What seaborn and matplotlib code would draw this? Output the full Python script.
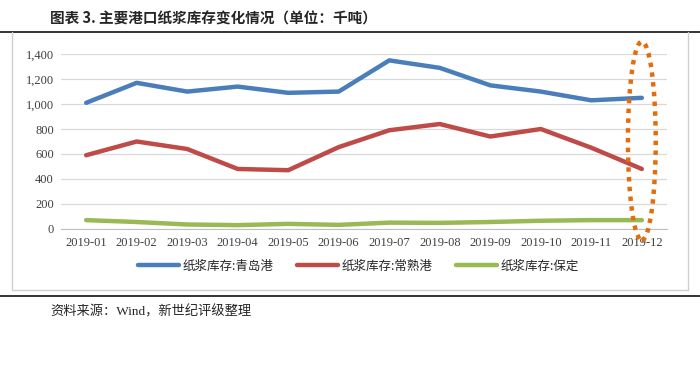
import numpy as np
import pandas as pd
import seaborn as sns
import matplotlib.pyplot as plt
from matplotlib.patches import Ellipse
from matplotlib.lines import Line2D

months = ['2019-01', '2019-02', '2019-03', '2019-04', '2019-05', '2019-06',
          '2019-07', '2019-08', '2019-09', '2019-10', '2019-11', '2019-12']
qingdao = [1010, 1170, 1100, 1140, 1090, 1100, 1350, 1290, 1150, 1100, 1030, 1050]
changshu = [590, 700, 640, 480, 470, 655, 790, 840, 740, 800, 650, 480]
baoding = [70, 55, 35, 30, 40, 32, 50, 48, 55, 65, 70, 70]
series_names = ['纸浆库存:青岛港', '纸浆库存:常熟港', '纸浆库存:保定']
colors = ['#4A7EBB', '#BE4B48', '#98B954']
yticks = [0, 200, 400, 600, 800, 1000, 1200, 1400]

sns.set_style('white')
plt.rcParams['font.family'] = ['Liberation Serif', 'Noto Sans CJK SC', 'DejaVu Sans']

df = pd.DataFrame({
    'month': months * 3,
    'x': list(range(len(months))) * 3,
    'value': qingdao + changshu + baoding,
    'series': [series_names[0]] * 12 + [series_names[1]] * 12 + [series_names[2]] * 12,
})

fig = plt.figure(figsize=(7, 3.84), dpi=100)
ax = fig.add_axes([0.087, 0.404, 0.866, 0.455])

sns.lineplot(data=df, x='x', y='value', hue='series', palette=colors,
             linewidth=3.2, ax=ax, legend=False, solid_capstyle='round')

ax.set_xlim(-0.5, 11.5)
ax.set_ylim(0, 1400)
ax.set_yticks(yticks)
ax.set_yticklabels([f'{v:,}' for v in yticks], fontsize=9, color='#404040')
ax.set_xticks(range(len(months)))
ax.set_xticklabels(months, fontsize=9, color='#404040')
ax.set_xticks(np.arange(-0.5, 12, 1), minor=True)
ax.tick_params(axis='x', which='major', length=0, pad=6)
ax.tick_params(axis='x', which='minor', length=4, color='#BFBFBF', width=0.8)
ax.tick_params(axis='y', length=0, pad=5)
ax.grid(axis='y', color='#D9D9D9', linewidth=0.9)
for s in ['top', 'right', 'left']:
    ax.spines[s].set_visible(False)
ax.spines['bottom'].set_color('#BFBFBF')
ax.set_xlabel('')
ax.set_ylabel('')

# dotted highlight ellipse around the last month
ell = Ellipse((11, 705), width=0.55, height=1590, fill=False,
              edgecolor='#E46C0A', linestyle=(0, (1, 1.2)), linewidth=3.2,
              clip_on=False, zorder=5)
ax.add_patch(ell)

handles = [Line2D([0], [0], color=c, linewidth=3.2) for c in colors]
fig.legend(handles, series_names, loc='center', bbox_to_anchor=(0.512, 0.307),
           ncol=3, frameon=False, handlelength=3.3,
           columnspacing=1.9, handletextpad=0.25,
           prop={'family': ['Noto Sans CJK SC'], 'size': 9})

# title and frame lines
fig.text(0.071, 0.953, '图表 3. 主要港口纸浆库存变化情况（单位：千吨）',
         fontsize=10.5, fontweight='bold', va='center', ha='left',
         family=['Noto Sans CJK SC'])
fig.add_artist(Line2D([0, 1], [0.917, 0.917], color='#333333', linewidth=1.4))
fig.add_artist(Line2D([0.017, 0.017], [0.917, 0.245], color='#D0D0D0', linewidth=1))
fig.add_artist(Line2D([0.983, 0.983], [0.917, 0.245], color='#D0D0D0', linewidth=1))
fig.add_artist(Line2D([0.017, 0.983], [0.245, 0.245], color='#D0D0D0', linewidth=1))
fig.add_artist(Line2D([0, 1], [0.229, 0.229], color='#333333', linewidth=1.4))
fig.text(0.072, 0.187, '资料来源：Wind，新世纪评级整理', fontsize=9.5,
         va='center', ha='left', family=['Liberation Serif', 'Noto Sans CJK SC'])

fig.savefig('out.png', dpi=100)
